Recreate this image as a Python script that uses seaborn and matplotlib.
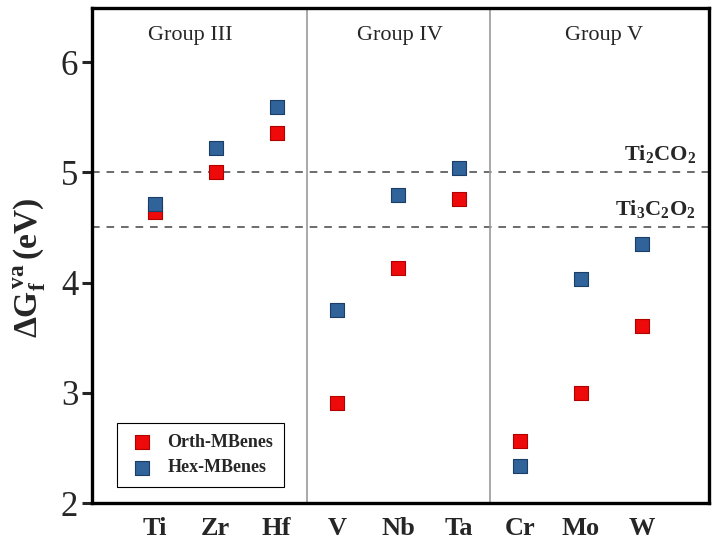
import matplotlib
matplotlib.use("Agg")
import matplotlib.pyplot as plt
import seaborn as sns
import pandas as pd
import numpy as np

elements = ["Ti", "Zr", "Hf", "V", "Nb", "Ta", "Cr", "Mo", "W"]
orth_vals = [4.64, 5.00, 5.36, 2.91, 4.13, 4.76, 2.56, 3.00, 3.61]
hex_vals = [4.71, 5.22, 5.59, 3.75, 4.79, 5.04, 2.34, 4.03, 4.35]
groups = ["Group III", "Group IV", "Group V"]
ref_labels = [r"$\mathbf{Ti_2CO_2}$", r"$\mathbf{Ti_3C_2O_2}$"]
ref_values = [5.0, 4.5]
series_names = ["Orth-MBenes", "Hex-MBenes"]

sns.set_style("ticks")
plt.rcParams["font.family"] = ["Liberation Serif", "DejaVu Serif"]
plt.rcParams["mathtext.fontset"] = "custom"
plt.rcParams["mathtext.rm"] = "Liberation Serif"
plt.rcParams["mathtext.bf"] = "Liberation Serif:bold"
plt.rcParams["mathtext.it"] = "Liberation Serif:italic"

df = pd.DataFrame({
    "x": list(range(len(elements))) * 2,
    "val": orth_vals + hex_vals,
    "series": [series_names[0]] * len(elements) + [series_names[1]] * len(elements),
})

fig = plt.figure(figsize=(7.19, 5.53), dpi=100)
ax = fig.add_axes([0.128, 0.0904, 0.858, 0.8951])

palette = {series_names[0]: "#EE0A0A", series_names[1]: "#2F6399"}
edges = {series_names[0]: "#B00000", series_names[1]: "#1C3D66"}

for name in series_names:
    sub = df[df["series"] == name]
    sns.scatterplot(data=sub, x="x", y="val", ax=ax, marker="s", s=95,
                    color=palette[name], edgecolor=edges[name], linewidth=0.8,
                    label=name, zorder=3)

for v in ref_values:
    ax.axhline(v, color="#444444", lw=1.1, ls=(0, (5, 4.5)), zorder=1)
for xv in [2.5, 5.5]:
    ax.axvline(xv, color="#999999", lw=1.2, zorder=1)

ax.set_xlim(-1.03, 9.1)
ax.set_ylim(2, 6.49)
ax.set_xticks(range(len(elements)))
ax.set_xticklabels(elements, fontsize=19, fontweight="bold")
ax.tick_params(axis="x", length=0, pad=10)
ax.set_yticks([2, 3, 4, 5, 6])
ax.set_yticklabels(["2", "3", "4", "5", "6"], fontsize=25)
ax.tick_params(axis="y", direction="out", length=7, width=2.2, pad=3)
for sp in ax.spines.values():
    sp.set_linewidth(2.4)
    sp.set_color("black")

ax.set_xlabel("")
ax.set_ylabel(r"$\mathbf{\Delta G_f^{\,va}}$$\,$(eV)", fontsize=24, fontweight="bold")
ax.yaxis.set_label_coords(-0.071, 0.475)

group_x = [0.59, 4.02, 7.37]
for gx, g in zip(group_x, groups):
    ax.text(gx, 6.245, g, ha="center", va="center", fontsize=16)

ax.text(8.88, 5.07, ref_labels[0], ha="right", va="bottom", fontsize=16)
ax.text(8.88, 4.57, ref_labels[1], ha="right", va="bottom", fontsize=16)

leg = ax.legend(loc="lower left", bbox_to_anchor=(0.04, 0.032), borderaxespad=0,
                frameon=True, fancybox=False, edgecolor="black", framealpha=1,
                prop={"family": "Liberation Serif", "weight": "bold", "size": 13},
                handletextpad=0.6, borderpad=0.6, labelspacing=0.45,
                handlelength=1.6)
leg.get_frame().set_linewidth(0.8)

fig.savefig("out.png", dpi=100)
